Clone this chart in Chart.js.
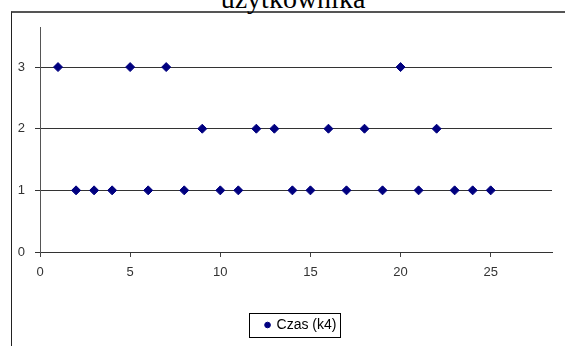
<!DOCTYPE html>
<html>
<head>
<meta charset="utf-8">
<script src="https://cdn.jsdelivr.net/npm/chart.js@4"></script>
<style>
  html, body { margin: 0; padding: 0; width: 565px; height: 346px; overflow: hidden; background: #fff; }
  #frame { position: absolute; left: 11px; top: 11px; width: 600px; height: 400px;
           border-top: 2px solid #555; border-left: 1px solid #222; box-sizing: border-box; }
  #title { position: absolute; left: 293px; top: -15px; transform: translateX(-50%);
           font-family: "Liberation Serif", "Times New Roman", serif; font-size: 28px; line-height: 28px;
           color: #000; white-space: nowrap; }
  #wrap { position: absolute; left: 0; top: 0; width: 565px; height: 346px; }
</style>
</head>
<body>
<div id="frame"></div>
<div id="title">użytkownika</div>
<div id="wrap"><canvas id="c" width="565" height="346"></canvas></div>
<script>
// Data
const seriesName = 'Czas (k4)';
const xValues = [1, 2, 3, 4, 5, 6, 7, 8, 9, 10, 11, 12, 13, 14, 15, 16, 17, 18, 19, 20, 21, 22, 23, 24, 25];
const yValues = [3, 1, 1, 1, 3, 1, 3, 1, 2, 1, 1, 2, 2, 1, 1, 2, 1, 2, 1, 3, 1, 2, 1, 1, 1];
const xTicks = [0, 5, 10, 15, 20, 25];
const yTicks = [0, 1, 2, 3];

const points = xValues.map((x, i) => ({ x: x, y: yValues[i] }));

const legendShift = {
  id: 'legendShift',
  afterLayout(chart) {
    const lg = chart.legend;
    if (!lg) return;
    lg.left += 19;
    lg.right += 19;
  }
};

const legendBorder = {
  id: 'legendBorder',
  afterDraw(chart) {
    const lg = chart.legend;
    if (!lg || !lg.legendHitBoxes || !lg.legendHitBoxes.length) return;
    const hb = lg.legendHitBoxes[0];
    const cy = hb.top + hb.height / 2;
    const ctx = chart.ctx;
    ctx.save();
    ctx.strokeStyle = '#000';
    ctx.lineWidth = 1;
    const l = Math.round(hb.left - 17) + 0.5;
    const r = Math.round(hb.left + hb.width + 4) + 0.5;
    const t = Math.round(cy - 12) + 0.5;
    const b = Math.round(cy + 12) + 0.5;
    ctx.strokeRect(l, t, r - l, b - t);
    ctx.restore();
  }
};

new Chart(document.getElementById('c'), {
  type: 'scatter',
  data: {
    datasets: [{
      label: seriesName,
      data: points,
      pointStyle: 'rectRot',
      pointRadius: 4.5,
      pointHoverRadius: 4.5,
      backgroundColor: '#000080',
      borderColor: '#000080',
      borderWidth: 1
    }]
  },
  options: {
    responsive: false,
    animation: false,
    devicePixelRatio: 1,
    layout: { padding: { left: 12, top: 27, right: 13, bottom: 4 } },
    scales: {
      x: {
        type: 'linear',
        min: 0,
        max: 28.4,
        afterBuildTicks: (s) => { s.ticks = xTicks.map(v => ({ value: v })); },
        afterFit: (s) => { s.height = 56; },
        grid: { drawOnChartArea: false, drawTicks: true, tickLength: 5, color: '#444', lineWidth: 1 },
        border: { display: true, color: '#333', width: 1 },
        ticks: { padding: 8, color: '#333', font: { family: 'Liberation Sans', size: 13 }, maxRotation: 0 }
      },
      y: {
        type: 'linear',
        min: 0,
        max: 3.65,
        afterBuildTicks: (s) => { s.ticks = yTicks.map(v => ({ value: v })); },
        afterFit: (s) => { s.width = 28; },
        grid: { drawOnChartArea: true, drawTicks: true, tickLength: 5, color: '#333', lineWidth: 1 },
        border: { display: true, color: '#555', width: 1 },
        ticks: { padding: 10, color: '#333', font: { family: 'Liberation Sans', size: 13 } }
      }
    },
    plugins: {
      title: { display: false },
      tooltip: { enabled: false },
      legend: {
        display: true,
        position: 'bottom',
        labels: {
          usePointStyle: true,
          pointStyle: 'circle',
          boxWidth: 4,
          boxHeight: 4,
          padding: 10,
          color: '#000',
          font: { family: 'Liberation Sans', size: 14 }
        }
      }
    }
  },
  plugins: [legendShift, legendBorder]
});
</script>
</body>
</html>
